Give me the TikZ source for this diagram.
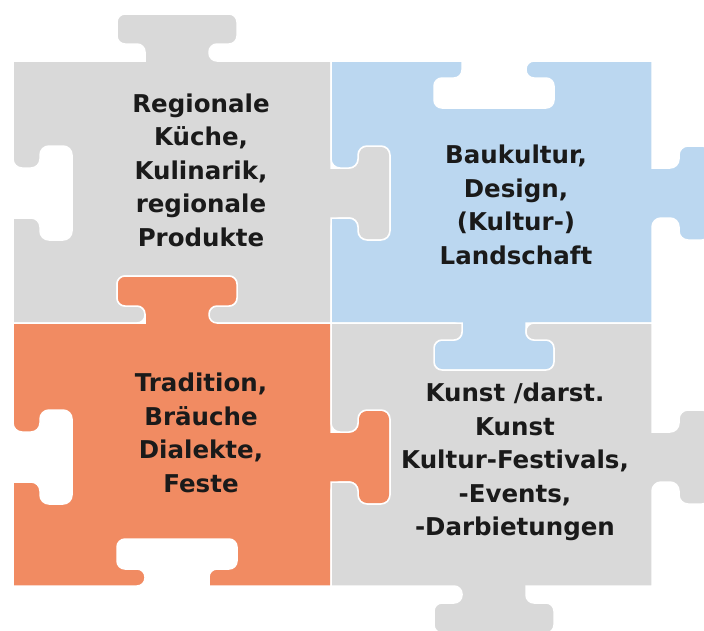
\documentclass[tikz,border=0pt]{standalone}
\usepackage{fontspec}
\setmainfont{DejaVu Sans}
\usetikzlibrary{positioning}
\definecolor{pzgray}{RGB}{217,217,217}
\definecolor{pzblue}{RGB}{187,215,240}
\definecolor{pzorange}{RGB}{241,139,98}
\definecolor{pztext}{RGB}{26,26,26}
\tikzset{
  piece/.style={draw=white, line width=1.5pt},
  piecetext/.style={align=center, text=pztext, font=\bfseries\fontsize{24.5}{33.5}\selectfont},
  knobh/.style n args={4}{insert path={-- ({#1-(#4)*32},#2) [rounded corners=8pt]
      -- ({#1-(#4)*32},{#2+(#3)*17}) -- ({#1-(#4)*60},{#2+(#3)*17})
      -- ({#1-(#4)*60},{#2+(#3)*47}) -- ({#1+(#4)*60},{#2+(#3)*47})
      -- ({#1+(#4)*60},{#2+(#3)*17}) -- ({#1+(#4)*32},{#2+(#3)*17})
      -- ({#1+(#4)*32},#2) [sharp corners]}},
  knobv/.style n args={4}{insert path={-- (#2,{#1-(#4)*25}) [rounded corners=9pt]
      -- ({#2+(#3)*27},{#1-(#4)*25}) -- ({#2+(#3)*27},{#1-(#4)*47})
      -- ({#2+(#3)*59},{#1-(#4)*47}) -- ({#2+(#3)*59},{#1+(#4)*47})
      -- ({#2+(#3)*27},{#1+(#4)*47}) -- ({#2+(#3)*27},{#1+(#4)*25})
      -- (#2,{#1+(#4)*25}) [sharp corners]}}
}
\begin{document}
\begin{tikzpicture}[x=1pt,y=-1pt]
  \useasboundingbox (0,0) rectangle (704,630);

  \path[piece, fill=pzgray]   (13,61)   [knobh={177}{61}{-1}{1}]   -- (331,61)  [knobv={193}{331}{1}{1}]
                              -- (331,323) [knobh={177}{323}{-1}{-1}] -- (13,323)  [knobv={193}{13}{1}{-1}]  -- cycle;
  \path[piece, fill=pzblue]   (331,61)  [knobh={494}{61}{1}{1}]    -- (652,61)  [knobv={193}{652}{1}{1}]
                              -- (652,323) [knobh={494}{323}{1}{-1}] -- (331,323) [knobv={193}{331}{1}{-1}] -- cycle;
  \path[piece, fill=pzorange] (13,323)  [knobh={177}{323}{-1}{1}]  -- (331,323) [knobv={457}{331}{1}{1}]
                              -- (331,586) [knobh={177}{586}{-1}{-1}] -- (13,586) [knobv={457}{13}{1}{-1}] -- cycle;
  \path[piece, fill=pzgray]   (331,323) [knobh={494}{323}{1}{1}]   -- (652,323) [knobv={457}{652}{1}{1}]
                              -- (652,586) [knobh={494}{586}{1}{-1}] -- (331,586) [knobv={457}{331}{1}{-1}] -- cycle;

  \node[piecetext] (kueche)    at (201,170) {Regionale\\Küche,\\Kulinarik,\\regionale\\Produkte};
  \node[piecetext] (baukultur) at (516,205) {Baukultur,\\Design,\\(Kultur-)\\Landschaft};
  \node[piecetext] (tradition) at (201,433) {Tradition,\\Bräuche\\Dialekte,\\Feste};
  \node[piecetext] (kunst)     at (515,462) {Kunst /darst.\\Kunst\\Kultur-Festivals,\\-Events,\\-Darbietungen};
\end{tikzpicture}
\end{document}
